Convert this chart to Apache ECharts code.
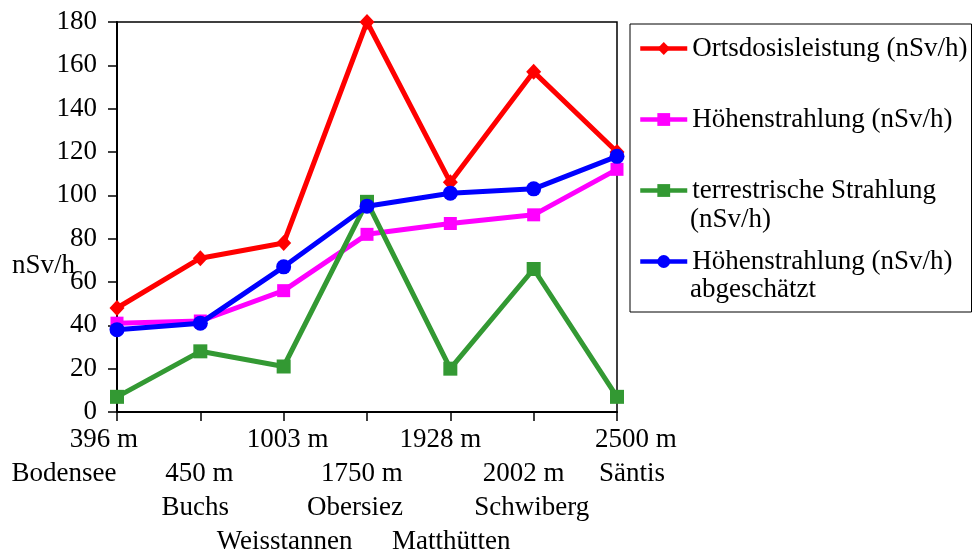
<!DOCTYPE html>
<html>
<head>
<meta charset="utf-8">
<script src="https://cdn.jsdelivr.net/npm/echarts@6/dist/echarts.min.js"></script>
<style>html,body{margin:0;padding:0;background:#fff}#c{width:976px;height:554px}</style>
</head>
<body>
<div id="c"></div>
<script>
// ---- data ----
const elevations = ['396 m', '450 m', '1003 m', '1750 m', '1928 m', '2002 m', '2500 m'];
const places = ['Bodensee', 'Buchs', 'Weisstannen', 'Obersiez', 'Matthütten', 'Schwiberg', 'Säntis'];
const yTicks = { min: 0, max: 180, interval: 20 };
const yAxisName = 'nSv/h';

const legendLines = [
  ['Ortsdosisleistung (nSv/h)'],
  ['Höhenstrahlung (nSv/h)'],
  ['terrestrische Strahlung', '(nSv/h)'],
  ['Höhenstrahlung (nSv/h)', 'abgeschätzt']
];
const ortsdosis = [48, 71, 78, 180, 106, 157, 120];
const hoehen = [41, 42, 56, 82, 87, 91, 112];
const terrestrisch = [7, 28, 21, 97, 20, 66, 7];
const hoehenGeschaetzt = [38, 41, 67, 95, 101, 103, 118];

// ---- layout / style (not data) ----
const FONT = '"Liberation Serif", "Times New Roman", serif';
const FS = 27;
const LH = 34;
const elevRow = [0, 1, 0, 1, 0, 1, 0];
const placeRow = [1, 2, 3, 2, 3, 2, 1];
const elevShift = [-13, -1, 4, -5, -10, -10, 19];
const placeShift = [-53, -5, 1, -12, 1, -2, 15];
const colors = ['#FF0000', '#FF00FF', '#339933', '#0000FF'];
const symbols = ['diamond', 'rect', 'rect', 'circle'];
const symbolSizes = [[15, 16], 13, 14, 15];

const seriesNames = legendLines.map(l => l.join(' '));
const values = [ortsdosis, hoehen, terrestrisch, hoehenGeschaetzt];

function pad(s) { return s < 0 ? [0, -2 * s, 0, 0] : [0, 0, 0, 2 * s]; }
const rich = { g: { lineHeight: LH, fontSize: FS, fontFamily: FONT } };
for (let i = 0; i < elevations.length; i++) {
  rich['e' + i] = { fontSize: FS, fontFamily: FONT, color: '#000', lineHeight: LH, padding: pad(elevShift[i]) };
  rich['p' + i] = { fontSize: FS, fontFamily: FONT, color: '#000', lineHeight: LH, padding: pad(placeShift[i]) };
}
function xLabel(value, idx) {
  const rows = Math.max(elevRow[idx], placeRow[idx]) + 1;
  const out = [];
  for (let r = 0; r < rows; r++) {
    if (r === elevRow[idx]) out.push('{e' + idx + '|' + elevations[idx] + '}');
    else if (r === placeRow[idx]) out.push('{p' + idx + '|' + places[idx] + '}');
    else out.push('{g| }');
  }
  return out.join('\n');
}

const legendFirst = {};
legendLines.forEach((l, i) => { legendFirst[seriesNames[i]] = l[0]; });

const chart = echarts.init(document.getElementById('c'), null, { renderer: 'canvas' });
const legendLeft = 630, legendPadL = 8, itemW = 47;
const itemCenters0 = 48, itemStep = 70;
const graphics = [{
  type: 'text',
  x: 75, y: 266,
  style: { text: yAxisName, font: FS + 'px ' + FONT, fill: '#000', verticalAlign: 'middle', align: 'right' }
}];
legendLines.forEach((l, i) => {
  if (l.length > 1) {
    graphics.push({
      type: 'text',
      x: legendLeft + legendPadL + itemW + 5,
      y: itemCenters0 + i * itemStep + 32,
      style: { text: l[1], font: FS + 'px ' + FONT, fill: '#000', verticalAlign: 'middle', align: 'left' }
    });
  }
});

chart.setOption({
  animation: false,
  backgroundColor: '#fff',
  textStyle: { fontFamily: FONT },
  grid: { left: 117, top: 22, right: 359, bottom: 142, show: true, borderColor: '#000', borderWidth: 1.5, backgroundColor: 'transparent', containLabel: false, outerBoundsMode: 'none' },
  legend: {
    orient: 'vertical',
    left: legendLeft,
    top: 24,
    padding: [11, 4, 37, legendPadL],
    itemGap: 44,
    itemWidth: itemW,
    itemHeight: 16,
    borderColor: '#000',
    borderWidth: 1,
    data: seriesNames,
    formatter: name => legendFirst[name],
    lineStyle: { width: 4.5 },
    textStyle: { fontFamily: FONT, fontSize: FS, color: '#000', lineHeight: 26 }
  },
  xAxis: {
    type: 'category',
    data: elevations,
    boundaryGap: false,
    axisLine: { lineStyle: { color: '#000', width: 2 } },
    axisTick: { show: true, length: 9, lineStyle: { color: '#000', width: 1.5 }, interval: 0 },
    axisLabel: { interval: 0, margin: 11, formatter: xLabel, rich: rich, fontFamily: FONT, fontSize: FS, color: '#000', lineHeight: LH },
    splitLine: { show: false }
  },
  yAxis: {
    type: 'value',
    min: yTicks.min, max: yTicks.max, interval: yTicks.interval,
    axisLine: { show: true, lineStyle: { color: '#000', width: 2 } },
    axisTick: { show: true, length: 9, lineStyle: { color: '#000', width: 1.5 } },
    axisLabel: { margin: 20, fontFamily: FONT, fontSize: FS, color: '#000' },
    splitLine: { show: false }
  },
  graphic: graphics,
  series: values.map((v, i) => ({
    name: seriesNames[i],
    type: 'line',
    data: v,
    symbol: symbols[i],
    symbolSize: symbolSizes[i],
    showAllSymbol: true,
    lineStyle: { color: colors[i], width: 5 },
    itemStyle: { color: colors[i] },
    z: 2 + i
  }))
});
</script>
</body>
</html>
